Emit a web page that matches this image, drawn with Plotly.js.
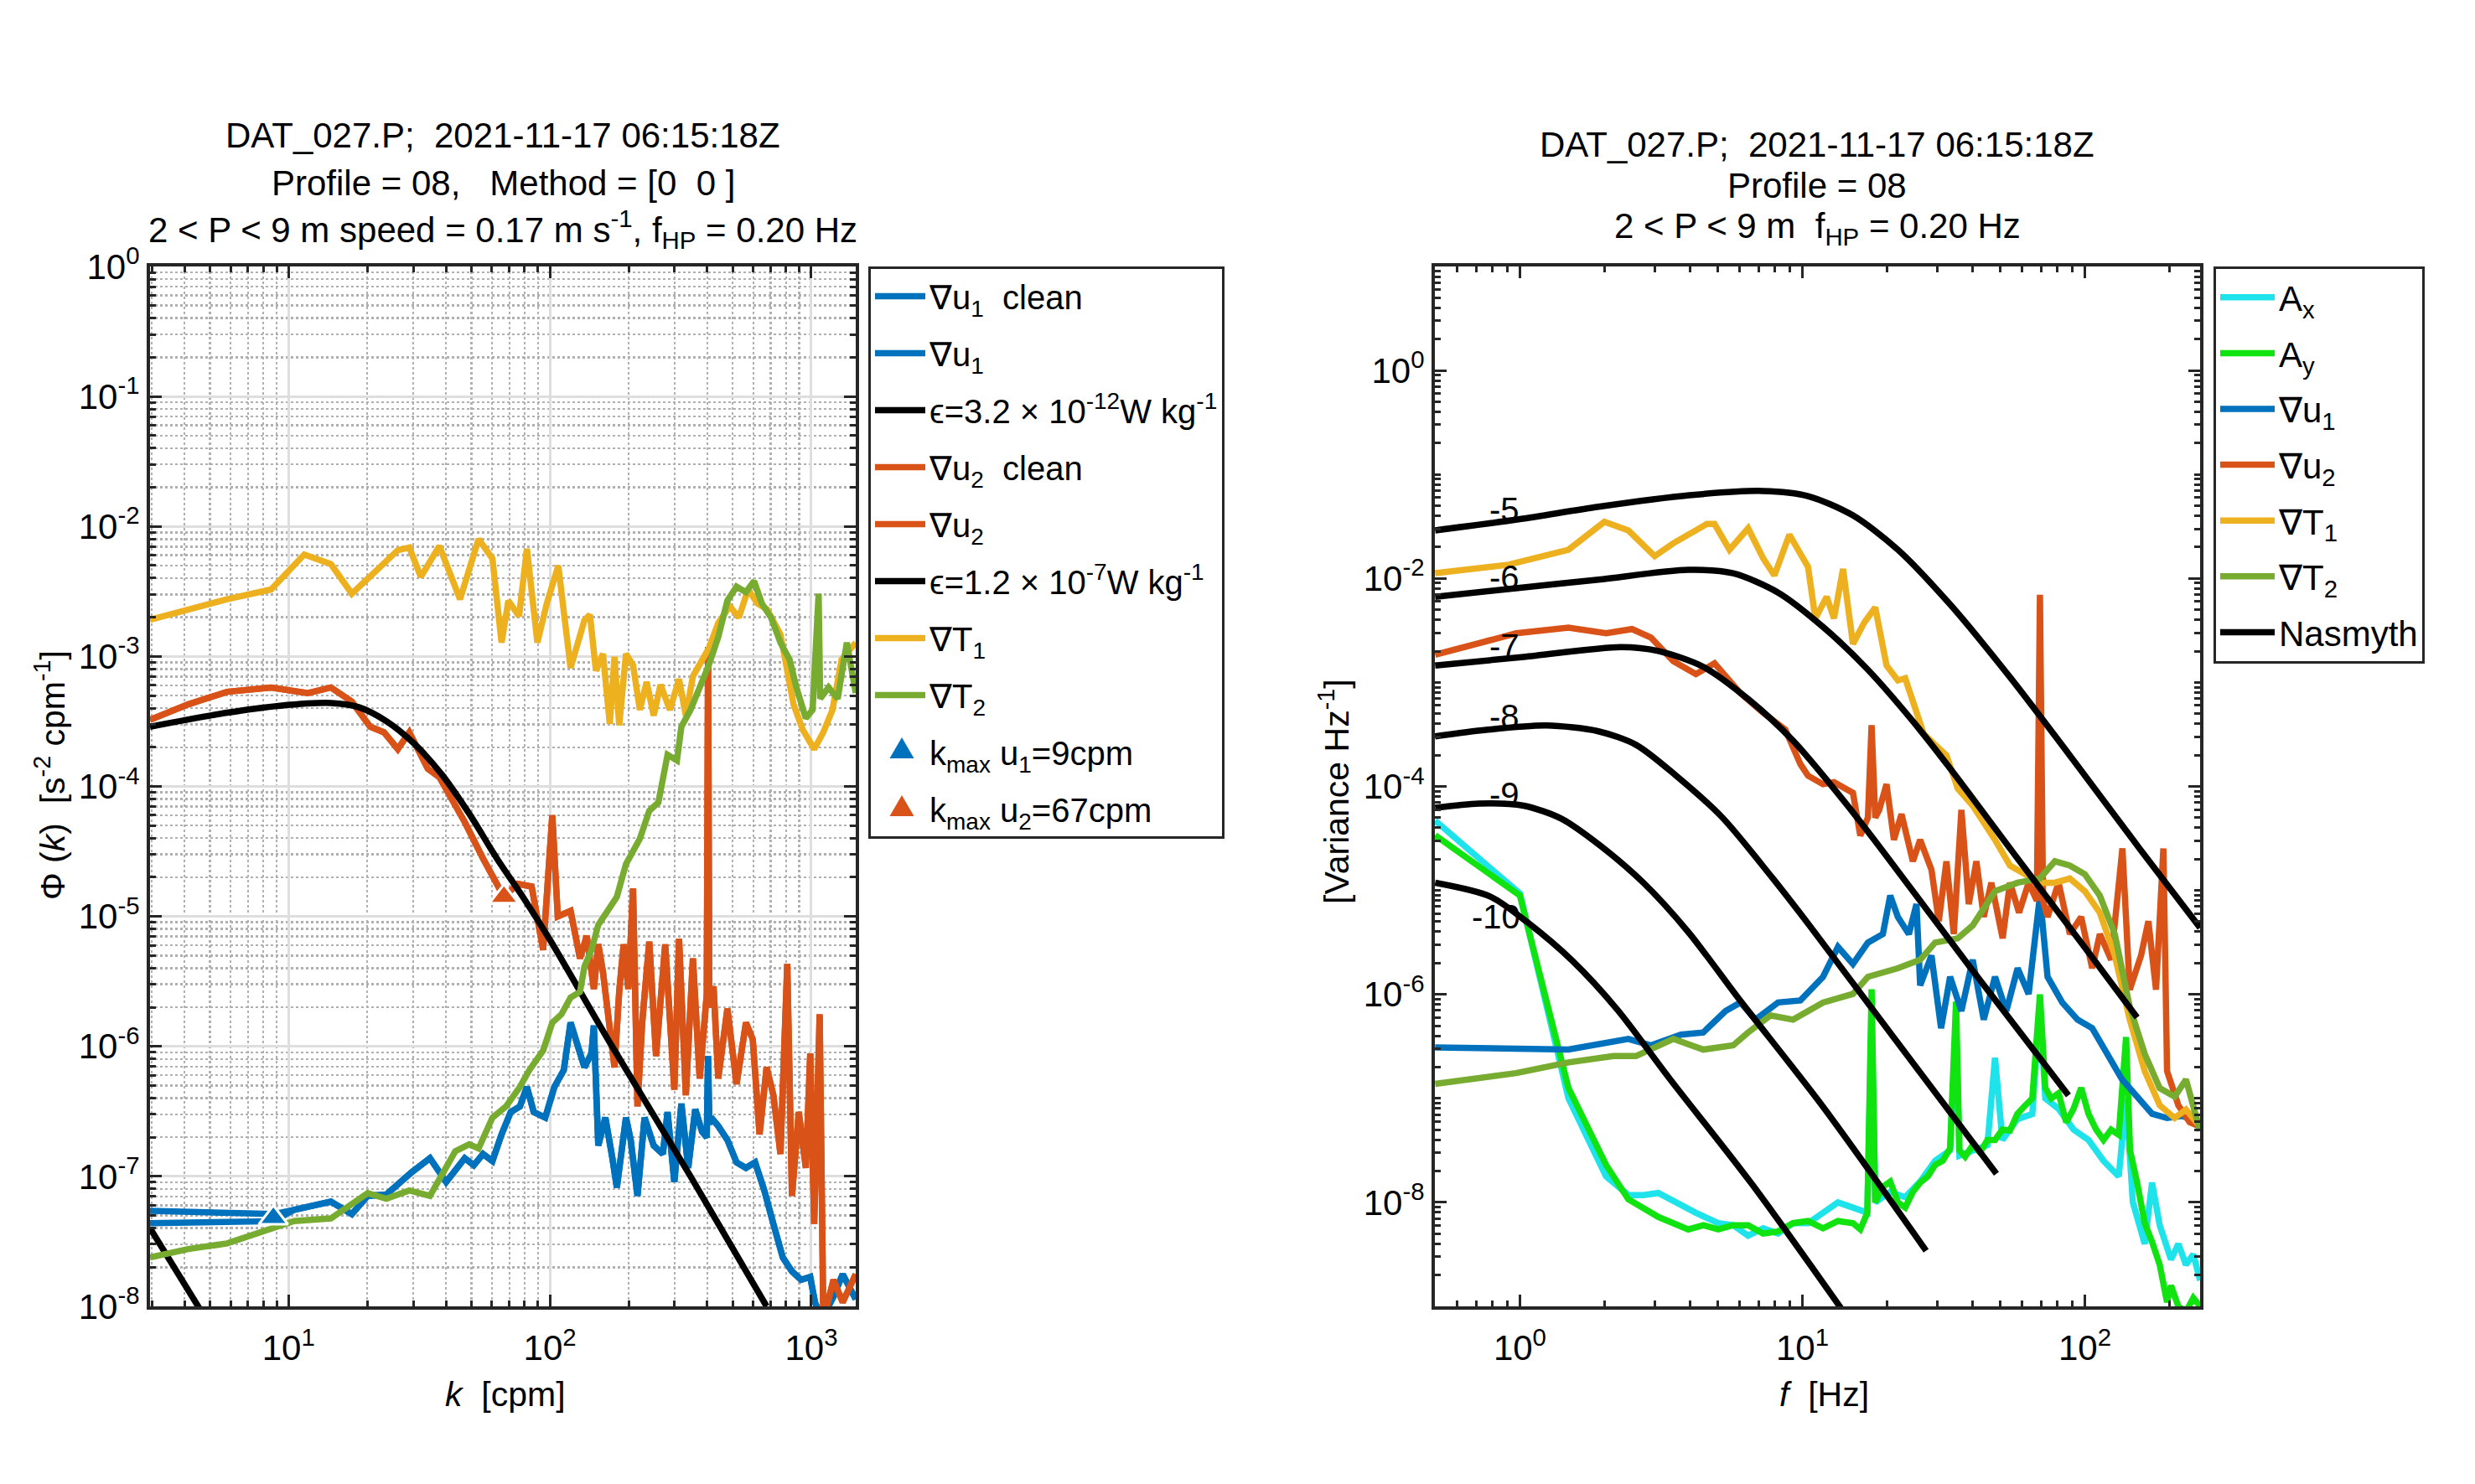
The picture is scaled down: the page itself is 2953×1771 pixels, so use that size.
<!DOCTYPE html>
<html><head><meta charset="utf-8">
<script src="https://cdn.plot.ly/plotly-3.0.1.min.js"></script>
<style>html,body{margin:0;padding:0;background:#fff}#chart{width:2953px;height:1771px}</style>
</head><body><div id="chart"></div>
<script>
// ---------- LEFT PANEL: wavenumber spectra (log10 k [cpm], log10 Phi) ----------
const u1_logk = [0.47,0.942,1.021,1.162,1.242,1.303,1.374,1.471,1.541,1.603,1.674,1.709,1.744,1.78,1.815,1.85,1.885,1.912,1.938,1.982,2.017,2.053,2.079,2.106,2.132,2.159,2.168,2.185,2.212,2.238,2.256,2.291,2.309,2.335,2.362,2.397,2.432,2.45,2.476,2.503,2.529,2.556,2.582,2.6,2.605,2.61,2.617,2.644,2.679,2.714,2.75,2.785,2.82,2.855,2.891,2.926,2.961,2.996,3.014,3.04,3.085,3.12,3.17];
const u1_logPhi = [-7.265,-7.29,-7.258,-7.194,-7.29,-7.15,-7.14,-6.968,-6.86,-7.043,-6.86,-6.914,-6.828,-6.882,-6.677,-6.505,-6.462,-6.312,-6.505,-6.548,-6.312,-6.183,-5.817,-5.989,-6.161,-6.054,-5.839,-6.763,-6.548,-6.849,-7.086,-6.548,-6.72,-7.15,-6.548,-6.763,-6.828,-6.505,-7.043,-6.441,-6.935,-6.484,-6.656,-6.7,-6.075,-6.6,-6.548,-6.613,-6.72,-6.892,-6.935,-6.892,-7.108,-7.366,-7.624,-7.731,-7.796,-7.774,-7.968,-8.1,-7.925,-7.753,-7.946];
const u1clean_head = [-7.36,-7.345];   // first two points of the "clean" curve (rest identical)

const u2_logk = [0.47,0.616,0.765,0.933,1.074,1.162,1.242,1.312,1.365,1.418,1.462,1.533,1.577,1.674,1.744,1.797,1.824,1.877,1.93,1.974,2.009,2.03,2.079,2.115,2.141,2.168,2.185,2.203,2.229,2.247,2.265,2.282,2.3,2.318,2.335,2.353,2.38,2.406,2.441,2.476,2.494,2.52,2.547,2.573,2.6,2.605,2.61,2.626,2.644,2.679,2.714,2.75,2.776,2.802,2.829,2.855,2.882,2.908,2.926,2.952,2.979,2.996,3.011,3.032,3.046,3.085,3.12,3.17];
const u2_logPhi = [-3.487,-3.369,-3.272,-3.239,-3.282,-3.239,-3.347,-3.541,-3.584,-3.713,-3.584,-3.864,-3.929,-4.274,-4.554,-4.748,-4.85,-4.75,-4.77,-5.258,-4.222,-5.0,-4.957,-5.323,-5.15,-5.559,-5.215,-5.43,-5.903,-6.161,-5.581,-5.215,-5.559,-4.785,-6.462,-5.817,-5.194,-6.075,-5.215,-6.333,-5.172,-6.376,-5.323,-6.247,-5.6,-2.927,-5.7,-5.538,-6.247,-5.71,-6.29,-5.817,-5.946,-6.677,-6.161,-6.376,-6.828,-5.366,-7.15,-6.505,-6.935,-6.054,-7.366,-5.753,-8.1,-7.796,-7.968,-7.753];

const T1_logk = [0.47,0.616,0.765,0.933,1.06,1.162,1.242,1.339,1.418,1.462,1.506,1.577,1.656,1.727,1.78,1.815,1.841,1.882,1.912,1.952,1.988,2.032,2.079,2.132,2.153,2.176,2.203,2.229,2.247,2.265,2.291,2.318,2.344,2.37,2.397,2.423,2.459,2.494,2.52,2.547,2.573,2.608,2.644,2.688,2.723,2.758,2.794,2.83,2.882,2.905,2.932,2.967,3.011,3.046,3.081,3.116,3.17];
const T1_logPhi = [-2.718,-2.636,-2.56,-2.485,-2.216,-2.29,-2.517,-2.334,-2.183,-2.162,-2.388,-2.151,-2.56,-2.097,-2.248,-2.894,-2.571,-2.69,-2.172,-2.894,-2.593,-2.302,-3.088,-2.722,-2.679,-3.11,-2.98,-3.519,-3.002,-3.53,-2.98,-3.067,-3.411,-3.196,-3.455,-3.218,-3.411,-3.175,-3.455,-3.153,-3.067,-2.937,-2.743,-2.614,-2.7,-2.485,-2.593,-2.636,-2.83,-3.067,-3.369,-3.562,-3.713,-3.584,-3.411,-3.024,-2.894];

const T2_logk = [0.47,0.616,0.765,0.862,1.021,1.162,1.303,1.374,1.462,1.541,1.638,1.691,1.727,1.78,1.832,1.885,1.921,1.974,2.009,2.044,2.079,2.115,2.132,2.159,2.185,2.221,2.256,2.291,2.344,2.38,2.415,2.45,2.486,2.503,2.538,2.573,2.608,2.644,2.679,2.714,2.75,2.781,2.811,2.846,2.882,2.917,2.943,2.979,3.005,3.028,3.034,3.066,3.101,3.136,3.17];
const T2_logPhi = [-7.624,-7.559,-7.516,-7.452,-7.344,-7.323,-7.129,-7.172,-7.108,-7.15,-6.806,-6.753,-6.785,-6.548,-6.462,-6.312,-6.183,-6.032,-5.817,-5.753,-5.624,-5.581,-5.387,-5.258,-5.065,-4.957,-4.85,-4.597,-4.403,-4.188,-4.123,-3.756,-3.8,-3.541,-3.411,-3.239,-3.067,-2.851,-2.571,-2.463,-2.506,-2.42,-2.593,-2.7,-2.894,-3.024,-3.239,-3.476,-3.411,-2.517,-3.325,-3.239,-3.325,-2.894,-3.282];

// Nasmyth fits
const eps1_logk = [0.47,0.70];
const eps1_logPhi = [-7.398,-8.15];
const eps2_logk = [0.47,0.765,0.968,1.162,1.268,1.374,1.48,1.586,1.691,1.797,1.903,2.0,2.238,2.538,2.829];
const eps2_logPhi = [-3.541,-3.433,-3.379,-3.358,-3.39,-3.498,-3.67,-3.907,-4.209,-4.554,-4.87,-5.18,-6.0,-7.0,-8.0];

// k_max markers
const kmax_logk = [0.942,1.824];
const kmax_logPhi = [-7.32,-4.85];

// ---------- RIGHT PANEL: frequency spectra (log10 f [Hz], log10 variance) ----------
const Ax_logf = [-0.3,0.0,0.172,0.305,0.384,0.437,0.49,0.55,0.623,0.702,0.755,0.808,0.861,0.914,0.967,1.02,1.073,1.126,1.179,1.23,1.245,1.258,1.311,1.364,1.417,1.47,1.523,1.544,1.556,1.603,1.655,1.682,1.708,1.761,1.814,1.841,1.86,1.907,1.96,2.013,2.066,2.12,2.146,2.17,2.212,2.238,2.265,2.305,2.331,2.358,2.384,2.408];
const Ax_logV = [-4.33,-5.03,-7.0,-7.75,-7.93,-7.93,-7.91,-8.0,-8.1,-8.2,-8.22,-8.32,-8.25,-8.3,-8.2,-8.2,-8.1,-8.0,-8.05,-8.1,-6.2,-8.0,-7.9,-7.95,-7.8,-7.6,-7.5,-6.3,-7.55,-7.5,-7.45,-6.61,-7.4,-7.2,-7.15,-6.1,-7.0,-7.1,-7.3,-7.4,-7.6,-7.75,-7.0,-8.0,-8.4,-7.81,-8.22,-8.55,-8.4,-8.6,-8.5,-8.75];
const Ay_logf = [-0.3,0.0,0.172,0.305,0.384,0.49,0.596,0.65,0.702,0.755,0.808,0.861,0.914,0.967,1.02,1.073,1.126,1.179,1.205,1.23,1.245,1.258,1.285,1.311,1.338,1.364,1.391,1.417,1.444,1.47,1.497,1.523,1.544,1.556,1.576,1.603,1.629,1.655,1.682,1.708,1.735,1.761,1.788,1.814,1.841,1.86,1.881,1.907,1.934,1.96,1.987,2.013,2.04,2.066,2.093,2.12,2.146,2.16,2.185,2.212,2.238,2.265,2.291,2.305,2.331,2.358,2.384,2.408];
const Ay_logV = [-4.47,-5.05,-6.9,-7.64,-7.97,-8.14,-8.26,-8.22,-8.26,-8.22,-8.22,-8.3,-8.28,-8.2,-8.18,-8.25,-8.18,-8.2,-8.26,-8.1,-5.95,-8.0,-7.85,-7.8,-8.0,-8.05,-7.9,-7.81,-7.75,-7.64,-7.6,-7.48,-6.07,-7.5,-7.56,-7.45,-7.52,-7.4,-7.4,-7.3,-7.31,-7.15,-7.07,-7.0,-6.0,-6.9,-7.0,-6.95,-7.23,-7.1,-6.9,-7.15,-7.3,-7.4,-7.3,-7.35,-6.41,-7.5,-7.81,-8.2,-8.38,-8.6,-8.96,-8.8,-9.0,-9.05,-8.92,-9.0];
const Ru1_logf = [-0.3,0.172,0.384,0.464,0.57,0.649,0.728,0.781,0.834,0.914,0.993,1.073,1.126,1.179,1.232,1.285,1.311,1.338,1.377,1.404,1.417,1.457,1.491,1.523,1.563,1.603,1.642,1.682,1.722,1.762,1.801,1.841,1.868,1.92,1.974,2.026,2.079,2.132,2.185,2.238,2.291,2.344,2.408];
const Ru1_logV = [-6.51,-6.53,-6.428,-6.49,-6.387,-6.366,-6.16,-6.078,-6.243,-6.078,-6.058,-5.831,-5.543,-5.708,-5.502,-5.42,-5.05,-5.255,-5.42,-5.132,-5.914,-5.626,-6.325,-5.831,-6.16,-5.667,-6.243,-5.831,-6.16,-5.749,-5.996,-5.05,-5.831,-6.078,-6.243,-6.325,-6.572,-6.819,-6.984,-7.148,-7.189,-7.169,-7.23];
const Ru2_logf = [-0.3,-0.013,0.172,0.305,0.397,0.464,0.543,0.623,0.689,0.781,0.861,0.94,0.993,1.02,1.073,1.112,1.179,1.205,1.232,1.245,1.258,1.272,1.298,1.324,1.351,1.391,1.417,1.457,1.483,1.51,1.536,1.563,1.589,1.616,1.642,1.669,1.709,1.735,1.767,1.801,1.83,1.841,1.852,1.868,1.907,1.947,1.987,2.026,2.053,2.093,2.133,2.159,2.199,2.225,2.252,2.278,2.291,2.331,2.371,2.408];
const Ru2_logV = [-2.734,-2.528,-2.474,-2.528,-2.487,-2.569,-2.796,-2.92,-2.816,-3.105,-3.291,-3.456,-3.786,-3.897,-3.979,-3.959,-4.062,-4.473,-4.3,-3.41,-4.3,-4.226,-3.979,-4.514,-4.267,-4.72,-4.514,-4.802,-5.296,-4.72,-5.42,-4.226,-5.132,-4.72,-5.255,-4.926,-5.461,-4.926,-5.214,-4.926,-5.1,-2.157,-5.1,-5.255,-4.926,-5.42,-5.255,-5.749,-5.42,-5.667,-4.596,-5.955,-5.626,-5.296,-5.955,-4.596,-6.737,-7.066,-7.23,-7.272];
const RT1_logf = [-0.3,-0.04,0.172,0.299,0.384,0.477,0.543,0.662,0.689,0.742,0.808,0.861,0.901,0.954,1.02,1.046,1.086,1.112,1.144,1.179,1.219,1.258,1.298,1.338,1.364,1.396,1.43,1.47,1.51,1.55,1.603,1.682,1.735,1.788,1.841,1.894,1.947,2.0,2.053,2.106,2.159,2.212,2.265,2.318,2.358,2.408];
const RT1_logV = [-1.95,-1.868,-1.724,-1.456,-1.538,-1.786,-1.662,-1.476,-1.476,-1.724,-1.518,-1.806,-1.971,-1.579,-1.889,-2.384,-2.177,-2.384,-1.909,-2.631,-2.425,-2.28,-2.837,-2.981,-2.96,-3.208,-3.497,-3.6,-3.7,-4.02,-4.185,-4.514,-4.761,-4.844,-4.926,-4.926,-4.885,-5.008,-5.214,-5.626,-6.243,-6.737,-7.066,-7.189,-7.107,-7.272];
const RT2_logf = [-0.3,-0.013,0.172,0.331,0.411,0.543,0.649,0.755,0.808,0.887,0.967,1.073,1.179,1.232,1.338,1.417,1.47,1.55,1.603,1.682,1.762,1.841,1.894,1.947,2.0,2.053,2.106,2.159,2.212,2.265,2.318,2.358,2.408];
const RT2_logV = [-6.86,-6.757,-6.654,-6.593,-6.593,-6.428,-6.531,-6.49,-6.366,-6.202,-6.243,-6.078,-5.996,-5.831,-5.749,-5.667,-5.502,-5.461,-5.337,-5.008,-4.926,-4.885,-4.72,-4.761,-4.844,-5.05,-5.42,-6.12,-6.572,-6.901,-6.984,-6.819,-7.313];

// Nasmyth curves for epsilon = 1e-5 ... 1e-10
const nas_labels = ['-5','-6','-7','-8','-9','-10'];
const nas5_logf = [-0.3,0.0,0.278,0.6,0.861,1.02,1.179,1.338,1.523,1.735,1.974,2.2,2.408];
const nas5_logV = [-1.538,-1.43,-1.311,-1.2,-1.159,-1.208,-1.394,-1.724,-2.25,-2.95,-3.8,-4.62,-5.36];
const nas6_logf = [-0.3,0.0,0.278,0.596,0.755,0.914,1.073,1.232,1.391,1.523,1.75,2.0,2.185];
const nas6_logV = [-2.177,-2.09,-2.012,-1.918,-1.951,-2.136,-2.466,-2.878,-3.373,-3.827,-4.65,-5.55,-6.222];
const nas7_logf = [-0.3,0.013,0.358,0.49,0.649,0.808,0.967,1.141,1.273,1.6,1.942];
const nas7_logV = [-2.837,-2.755,-2.66,-2.698,-2.85,-3.16,-3.56,-4.12,-4.58,-5.76,-6.971];
const nas8_logf = [-0.3,-0.119,0.093,0.278,0.411,0.55,0.717,0.891,1.023,1.35,1.687];
const nas8_logV = [-3.518,-3.456,-3.414,-3.47,-3.6,-3.89,-4.3,-4.87,-5.33,-6.51,-7.724];
const nas9_logf = [-0.3,-0.146,0.013,0.146,0.278,0.437,0.596,0.78,1.073,1.438];
const nas9_logV = [-4.206,-4.165,-4.185,-4.309,-4.556,-4.926,-5.4,-6.06,-7.08,-8.465];
const nas10_logf = [-0.3,-0.104,0.028,0.187,0.346,0.53,0.823,1.188];
const nas10_logV = [-4.927,-5.06,-5.31,-5.68,-6.15,-6.81,-7.83,-9.215];
const nas_label_logf = [-0.114,-0.114,-0.114,-0.114,-0.114,-0.177];
const nas_label_logV = [-1.34,-1.99,-2.65,-3.33,-4.08,-5.255];

// ---------- rendering ----------
const W = 2953, H = 1771;
const FONT = 'Liberation Sans, Arial, Helvetica, sans-serif';
const C = {blue:'#0072BD', red:'#D95319', yellow:'#EDB120', green:'#77AC30',
           cyan:'#1ee3ea', lime:'#10e310', black:'#000000', frame:'#262626'};
const pow10 = a => a.map(v => Math.pow(10, v));
const fx = px => px / W, fy = py => 1 - py / H;
const LW = 7.5;

function ln(xl, yl, color, name, axes, legend, group, show, shape) {
  return {type:'scatter', mode:'lines', x:pow10(xl), y:pow10(yl), name:name,
    line:{color:color, width:LW, shape:shape||'linear', smoothing:0.8},
    xaxis:axes[0], yaxis:axes[1], legend:legend, legendgroup:group, showlegend:show!==false,
    hoverinfo:'skip'};
}
const A1 = ['x','y'], A2 = ['x2','y2'];
const u1clean_logPhi = u1clean_head.concat(u1_logPhi.slice(u1clean_head.length));

const traces = [
  ln(u1_logk, u1clean_logPhi, C.blue, '∇u<sub>1</sub>\u00a0 clean', A1, 'legend', 'g1'),
  ln(u1_logk, u1_logPhi, C.blue, '∇u<sub>1</sub>', A1, 'legend', 'g2'),
  ln(eps1_logk, eps1_logPhi, C.black, 'ϵ=3.2 × 10<sup>-12</sup>W kg<sup>-1</sup>', A1, 'legend', 'g3'),
  ln(u2_logk, u2_logPhi, C.red, '∇u<sub>2</sub>\u00a0 clean', A1, 'legend', 'g4'),
  ln(u2_logk, u2_logPhi, C.red, '∇u<sub>2</sub>', A1, 'legend', 'g5'),
  ln(eps2_logk, eps2_logPhi, C.black, 'ϵ=1.2 × 10<sup>-7</sup>W kg<sup>-1</sup>', A1, 'legend', 'g6', true, 'spline'),
  ln(T1_logk, T1_logPhi, C.yellow, '∇T<sub>1</sub>', A1, 'legend', 'g7'),
  ln(T2_logk, T2_logPhi, C.green, '∇T<sub>2</sub>', A1, 'legend', 'g8'),
];
const kmaxNames = ['k<sub>max</sub> u<sub>1</sub>=9cpm', 'k<sub>max</sub> u<sub>2</sub>=67cpm'];
const kmaxColors = [C.blue, C.red];
kmax_logk.forEach((k, i) => {
  // visible marker on the plot (white edge), not in legend
  traces.push({type:'scatter', mode:'markers', x:pow10([k]), y:pow10([kmax_logPhi[i]]), name:kmaxNames[i],
    marker:{symbol:'triangle-up', size:30, color:kmaxColors[i], line:{color:'#ffffff', width:3}},
    xaxis:'x', yaxis:'y', showlegend:false, hoverinfo:'skip'});
  // legend entry (symbol drawn as a larger shape underneath the transparent legend)
  traces.push({type:'scatter', mode:'markers', x:pow10([k]), y:pow10([kmax_logPhi[i]]), name:kmaxNames[i],
    marker:{symbol:'triangle-up', size:1, color:'rgba(0,0,0,0)'},
    xaxis:'x', yaxis:'y', legend:'legend', legendgroup:'g'+(9+i), hoverinfo:'skip'});
});

traces.push(ln(Ax_logf, Ax_logV, C.cyan, 'A<sub>x</sub>', A2, 'legend2', 'r1'));
traces.push(ln(Ay_logf, Ay_logV, C.lime, 'A<sub>y</sub>', A2, 'legend2', 'r2'));
traces.push(ln(Ru1_logf, Ru1_logV, C.blue, '∇u<sub>1</sub>', A2, 'legend2', 'r3'));
traces.push(ln(Ru2_logf, Ru2_logV, C.red, '∇u<sub>2</sub>', A2, 'legend2', 'r4'));
traces.push(ln(RT1_logf, RT1_logV, C.yellow, '∇T<sub>1</sub>', A2, 'legend2', 'r5'));
traces.push(ln(RT2_logf, RT2_logV, C.green, '∇T<sub>2</sub>', A2, 'legend2', 'r6'));
const nasF = [nas5_logf, nas6_logf, nas7_logf, nas8_logf, nas9_logf, nas10_logf];
const nasV = [nas5_logV, nas6_logV, nas7_logV, nas8_logV, nas9_logV, nas10_logV];
nasF.forEach((f, i) => traces.push(ln(f, nasV[i], C.black, 'Nasmyth', A2, 'legend2', 'r7', i === 0, 'spline')));

// axis helpers
function minorVals(lo, hi) { const out = []; for (let e = lo; e <= hi; e++) for (let m = 1; m <= 9; m++) out.push(m * Math.pow(10, e)); return out; }
function decadeTicks(exps) { return {vals: exps.map(e => Math.pow(10, e)), text: exps.map(e => '10<sup>' + e + '</sup>')}; }
function axis(domain, anchor, range, ticks, minor, grid, standoff) {
  const majorSet = new Set(ticks.vals.map(v => v.toPrecision(6)));
  return {type:'log', domain:domain, anchor:anchor, range:range, autorange:false,
    tickmode:'array', tickvals:ticks.vals, ticktext:ticks.text,
    ticks:'inside', ticklen:14, tickwidth:3, tickcolor:C.frame, ticklabelstandoff:standoff||0,
    showline:true, linecolor:C.frame, linewidth:4, mirror:'allticks',
    showgrid:grid, gridcolor:'#dedede', gridwidth:3, zeroline:false,
    tickfont:{size:42, family:FONT, color:'#000'},
    minor:{tickmode:'array', tickvals:minor.filter(v => !majorSet.has(v.toPrecision(6))),
      ticks:'inside', ticklen:7, tickwidth:3, tickcolor:C.frame,
      showgrid:grid, gridcolor:'#b0b0b0', griddash:'dot', gridwidth:2.5}};
}
const yDom = [fy(1559), fy(318)];
const layout = {
  width:W, height:H, margin:{l:0,r:0,t:0,b:0}, paper_bgcolor:'#fff', plot_bgcolor:'#fff',
  font:{family:FONT, size:40, color:'#000'}, showlegend:true,
  xaxis: axis([fx(179), fx(1021)], 'y', [0.47, 3.17], decadeTicks([1,2,3]), minorVals(0,3), true, 10),
  yaxis: axis(yDom, 'x', [-8, 0], decadeTicks([-8,-7,-6,-5,-4,-3,-2,-1,0]), minorVals(-8,-1), true),
  xaxis2: axis([fx(1712), fx(2625)], 'y2', [-0.301, 2.408], decadeTicks([0,1,2]), minorVals(-1,2), false, 10),
  yaxis2: axis(yDom, 'x2', [-9, 1], decadeTicks([-8,-6,-4,-2,0]), minorVals(-9,0), false),
  legend:{x:fx(1036), y:fy(318), xanchor:'left', yanchor:'top', bgcolor:'rgba(255,255,255,0)',
    bordercolor:C.frame, borderwidth:3, font:{size:40, family:FONT}, tracegroupgap:13, itemwidth:60},
  legend2:{x:fx(2641), y:fy(318), xanchor:'left', yanchor:'top', bgcolor:'#fff',
    bordercolor:C.frame, borderwidth:3, font:{size:42, family:FONT}, tracegroupgap:9, itemwidth:65},
  annotations:[], shapes:[]
};
// legend triangle symbols (enlarged), centred where the legend draws its symbols
const legTri = [{cx:1076, base:905, color:C.blue}, {cx:1076, base:974, color:C.red}];
legTri.forEach(s => layout.shapes.push({type:'path', xref:'paper', yref:'paper', layer:'above',
  path:'M' + fx(s.cx - 14.5) + ',' + fy(s.base) + ' L' + fx(s.cx + 14.5) + ',' + fy(s.base) + ' L' + fx(s.cx) + ',' + fy(s.base - 25) + ' Z',
  fillcolor:s.color, line:{width:0}}));

const ann = layout.annotations;
function t(text, x, y, opts) { ann.push(Object.assign({text:text, x:x, y:y, xref:'paper', yref:'paper',
  showarrow:false, xanchor:'center', yanchor:'middle', font:{size:42, family:FONT, color:'#000'}}, opts||{})); }
// titles
t('DAT_027.P;\u00a0 2021-11-17 06:15:18Z', fx(600), fy(161));
t('Profile = 08,\u00a0\u00a0 Method = [0\u00a0 0 ]', fx(600), fy(218));
t('2 &lt; P &lt; 9 m speed = 0.17 m s<sup>-1</sup>, f<sub>HP</sub> = 0.20 Hz', fx(600), fy(274));
t('DAT_027.P;\u00a0 2021-11-17 06:15:18Z', fx(2168), fy(172));
t('Profile = 08', fx(2168), fy(222));
t('2 &lt; P &lt; 9 m\u00a0 f<sub>HP</sub> = 0.20 Hz', fx(2168), fy(272));
// axis titles
t('<i>k</i>\u00a0 [cpm]', fx(603), fy(1664), {font:{size:41, family:FONT, color:'#000'}});
t('<i>f</i>\u00a0 [Hz]', fx(2176), fy(1664), {font:{size:41, family:FONT, color:'#000'}});
t('Φ (<i>k</i>)\u00a0 [s<sup>-2</sup> cpm<sup>-1</sup>]', fx(60), fy(925), {textangle:-90, font:{size:41, family:FONT, color:'#000'}});
t('[Variance Hz<sup>-1</sup>]', fx(1592), fy(945), {textangle:-90, font:{size:41, family:FONT, color:'#000'}});
// Nasmyth labels
nas_labels.forEach((s, i) => ann.push({text:s, x:nas_label_logf[i], y:nas_label_logV[i], xref:'x2', yref:'y2',
  showarrow:false, xanchor:'left', yanchor:'middle', font:{size:40, family:FONT, color:'#000'}}));

Plotly.newPlot('chart', traces, layout, {displayModeBar:false, staticPlot:true});
</script></body></html>
